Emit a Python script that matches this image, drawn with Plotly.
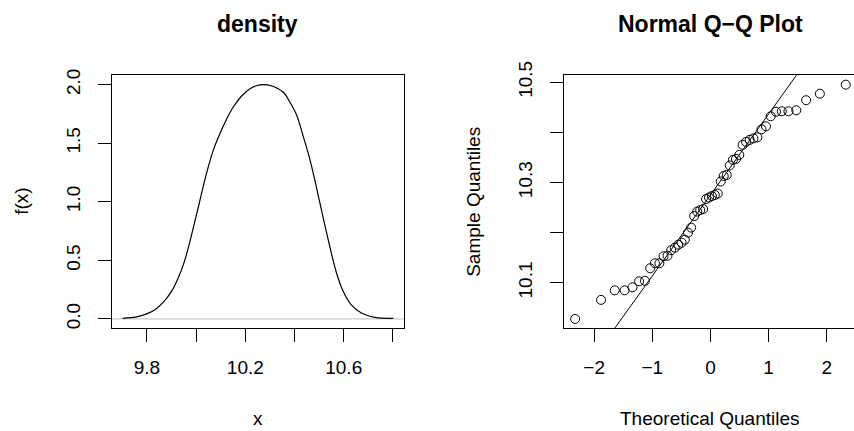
import numpy as np
import plotly.graph_objects as go
from statistics import NormalDist

# ---------------- data ----------------
density_x = [9.701, 9.758, 9.799, 9.833, 9.866, 9.900, 9.927, 9.948, 9.968, 9.988,
             10.008, 10.027, 10.044, 10.070, 10.097, 10.124, 10.151, 10.185, 10.219,
             10.245, 10.275, 10.305, 10.330, 10.354, 10.381, 10.409, 10.432, 10.458,
             10.481, 10.502, 10.523, 10.545, 10.569, 10.595, 10.630, 10.672, 10.727, 10.801]
density_y = [0.005, 0.017, 0.043, 0.079, 0.141, 0.235, 0.349, 0.462, 0.604, 0.774,
             0.945, 1.115, 1.256, 1.441, 1.583, 1.705, 1.809, 1.903, 1.966,
             1.991, 2.000, 1.991, 1.970, 1.937, 1.852, 1.739, 1.583, 1.398,
             1.200, 1.001, 0.803, 0.604, 0.405, 0.249, 0.122, 0.051, 0.014, 0.005]

sample_quantiles = [10.028, 10.066, 10.085, 10.085, 10.091, 10.103, 10.104, 10.129, 10.139, 10.139,
                    10.154, 10.153, 10.165, 10.170, 10.176, 10.180, 10.186, 10.200, 10.210, 10.233,
                    10.242, 10.245, 10.247, 10.267, 10.270, 10.273, 10.275, 10.278, 10.302, 10.313,
                    10.315, 10.334, 10.345, 10.347, 10.355, 10.375, 10.381, 10.385, 10.388, 10.390,
                    10.406, 10.412, 10.432, 10.441, 10.442, 10.442, 10.444, 10.464, 10.477, 10.495]
sample_quantiles = sorted(sample_quantiles)

density_xticks = [9.8, 10.0, 10.2, 10.4, 10.6, 10.8]
density_xticktext = ["9.8", "", "10.2", "", "10.6", ""]
density_yticks = [0.0, 0.5, 1.0, 1.5, 2.0]
density_yticktext = ["0.0", "0.5", "1.0", "1.5", "2.0"]
qq_xticks = [-2, -1, 0, 1, 2]
qq_xticktext = ["\u22122", "\u22121", "0", "1", "2"]
qq_yticks = [10.1, 10.2, 10.3, 10.4, 10.5]
qq_yticktext = ["10.1", "", "10.3", "", "10.5"]

# ---------------- derived quantities ----------------
W, H = 854, 431
n = len(sample_quantiles)
nd = NormalDist()
a = 3 / 8 if n <= 10 else 0.5
theo = [nd.inv_cdf((i + 1 - a) / (n + 1 - 2 * a)) for i in range(n)]
q25, q75 = np.quantile(sample_quantiles, [0.25, 0.75])
t25, t75 = nd.inv_cdf(0.25), nd.inv_cdf(0.75)
slope = (q75 - q25) / (t75 - t25)
inter = q25 - slope * t25


def pad(lo, hi, f=0.04):
    d = (hi - lo) * f
    return [lo - d, hi + d]


dx_range = pad(min(density_x), max(density_x))
dy_range = pad(0.0, max(density_y))
qx_full = pad(min(theo), max(theo))
qy_range = pad(min(sample_quantiles), max(sample_quantiles))

# pixel layout (panel boxes)
L1, R1 = 111.7, 404.0
L2, R2full = 564.3, 856.6
TOP, BOT = 75.3, 328.3
# right panel is cut at the page edge
qx_range = [qx_full[0], qx_full[0] + (qx_full[1] - qx_full[0]) * (W - L2) / (R2full - L2)]

ydom = [1 - BOT / H, 1 - TOP / H]
FONT = "Liberation Sans, Arial, sans-serif"
TICKF = 19

fig = go.Figure()
fig.add_trace(go.Scatter(x=density_x, y=density_y, mode="lines",
                         line=dict(color="black", width=1.2, shape="spline", smoothing=1.0),
                         xaxis="x", yaxis="y", showlegend=False, hoverinfo="skip"))
fig.add_trace(go.Scatter(x=theo, y=sample_quantiles, mode="markers",
                         marker=dict(symbol="circle-open", size=9, color="black", line=dict(width=1)),
                         xaxis="x2", yaxis="y2", showlegend=False, hoverinfo="skip"))
lx = [qx_full[0] - 1, qx_full[1] + 1]
fig.add_trace(go.Scatter(x=lx, y=[inter + slope * v for v in lx], mode="lines",
                         line=dict(color="black", width=1),
                         xaxis="x2", yaxis="y2", showlegend=False, hoverinfo="skip"))

fig.add_shape(type="line", xref="x domain", yref="y", x0=0, x1=1, y0=0, y1=0,
              line=dict(color="#BEBEBE", width=1), layer="below")

axis_common = dict(showgrid=False, zeroline=False, showline=True, linecolor="black", linewidth=1,
                   ticks="outside", ticklen=13, tickwidth=1, tickcolor="black", automargin=False,
                   tickfont=dict(family=FONT, size=TICKF, color="black"))

fig.update_layout(
    width=W, height=H, margin=dict(l=0, r=0, t=0, b=0, autoexpand=False),
    paper_bgcolor="white", plot_bgcolor="white", showlegend=False,
    xaxis=dict(domain=[L1 / W, R1 / W], anchor="y", range=dx_range, mirror=True,
               tickvals=density_xticks, ticktext=density_xticktext, ticklabelstandoff=9, **axis_common),
    yaxis=dict(domain=ydom, anchor="x", range=dy_range, mirror=True, tickangle=-90,
               tickvals=density_yticks, ticktext=density_yticktext, ticklabelstandoff=10, **axis_common),
    xaxis2=dict(domain=[L2 / W, 1.0], anchor="y2", range=qx_range, mirror=True,
                tickvals=qq_xticks, ticktext=qq_xticktext, ticklabelstandoff=9, **axis_common),
    yaxis2=dict(domain=ydom, anchor="x2", range=qy_range, mirror=False, tickangle=-90,
                tickvals=qq_yticks, ticktext=qq_yticktext, ticklabelstandoff=11, **axis_common),
)


def ann(text, px, py, size, angle=0, bold=False, yanchor="middle"):
    fig.add_annotation(text=f"<b>{text}</b>" if bold else text, xref="paper", yref="paper",
                       x=px / W, y=1 - py / H, xanchor="center", yanchor=yanchor,
                       showarrow=False, textangle=angle,
                       font=dict(family=FONT, size=size, color="black"))


ann("density", (L1 + R1) / 2, 24, 23, bold=True)
ann("Normal Q\u2212Q Plot", (L2 + R2full) / 2, 24, 23, bold=True)
ann("x", (L1 + R1) / 2, 431, TICKF, yanchor="bottom")
ann("Theoretical Quantiles", (L2 + R2full) / 2, 431, TICKF, yanchor="bottom")
ann("f(x)", 22, (TOP + BOT) / 2, TICKF, angle=-90)
ann("Sample Quantiles", 474, (TOP + BOT) / 2, TICKF, angle=-90)

fig.write_html("out.html", config={"displayModeBar": False},
               post_script="document.body.style.margin='0';document.body.style.overflow='hidden';")
